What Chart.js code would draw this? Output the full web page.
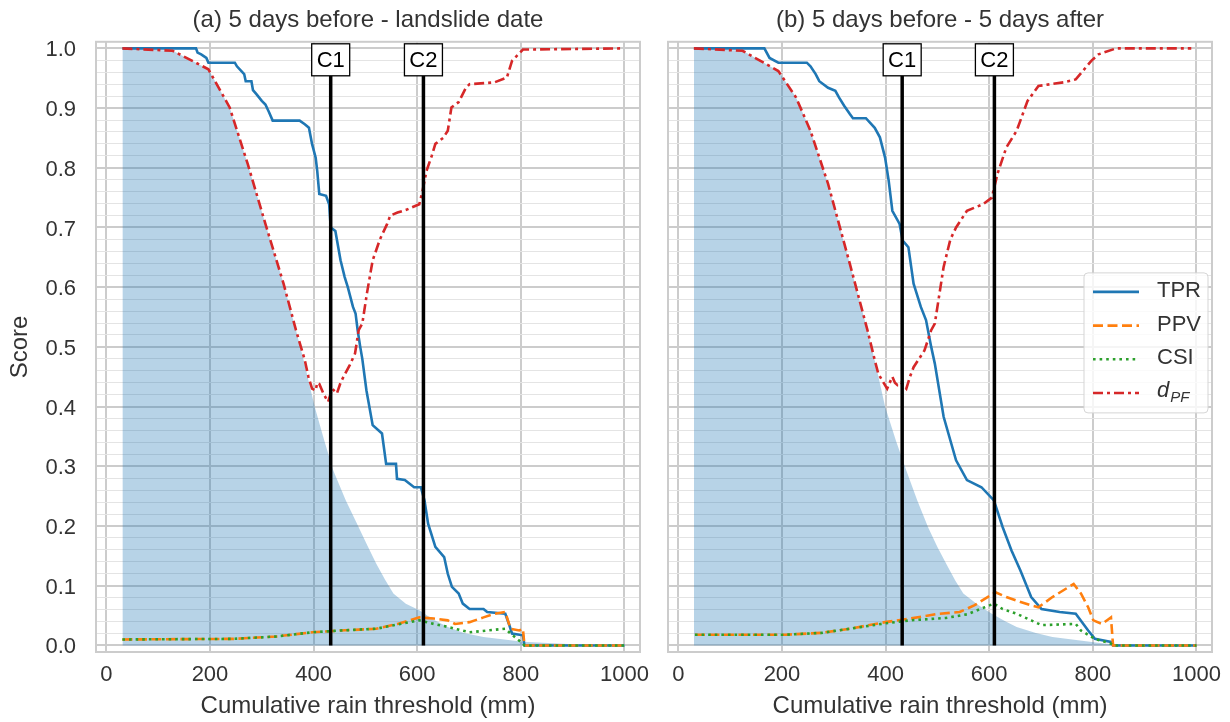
<!DOCTYPE html>
<html>
<head>
<meta charset="utf-8">
<script src="https://cdn.jsdelivr.net/npm/chart.js@4.4.0/dist/chart.umd.min.js"></script>
<style>
  html, body { margin: 0; padding: 0; background: #fff; }
  #wrap { position: relative; width: 1230px; height: 722px; }
  canvas { position: absolute; top: 0; }
  #chart-a { left: 0; }
  #chart-b { left: 650px; }
</style>
</head>
<body>
<div id="wrap">
  <canvas id="chart-a" width="650" height="722"></canvas>
  <canvas id="chart-b" width="580" height="722"></canvas>
</div>
<script>
// --- data: [threshold mm, score] ---
const markerLabels = ["C1", "C2"];
const thresholdsA = [433, 612];
const thresholdsB = [432, 610];

// (a) 5 days before - landslide date
const tprA = [[31,1],[173,1],[176,0.993],[183,0.99],[193,0.984],[197,0.976],[248,0.976],[252,0.97],[266,0.957],[269,0.945],[280,0.945],[283,0.93],[290,0.923],[300,0.912],[307,0.906],[314,0.893],[321,0.879],[373,0.879],[383,0.873],[391,0.867],[397,0.84],[404,0.817],[407,0.795],[411,0.756],[424,0.753],[430,0.739],[433,0.70],[442,0.694],[452,0.645],[460,0.617],[466,0.60],[476,0.567],[481,0.556],[485,0.528],[490,0.50],[494,0.48],[502,0.427],[514,0.369],[532,0.355],[540,0.304],[559,0.304],[561,0.279],[576,0.277],[594,0.265],[607,0.265],[614,0.243],[621,0.204],[635,0.165],[652,0.148],[659,0.12],[667,0.098],[680,0.087],[688,0.07],[701,0.061],[728,0.061],[735,0.056],[770,0.053],[777,0.036],[783,0.02],[804,0.017],[807,0],[1000,0]];
const ppvA = [[31,0.01],[245,0.011],[328,0.015],[397,0.022],[452,0.025],[521,0.028],[562,0.036],[604,0.047],[632,0.045],[659,0.042],[673,0.036],[701,0.039],[728,0.047],[749,0.053],[770,0.056],[780,0.028],[797,0.025],[804,0.028],[807,0],[1000,0]];
const csiA = [[31,0.01],[245,0.011],[328,0.015],[397,0.022],[452,0.025],[521,0.028],[562,0.035],[604,0.042],[632,0.036],[659,0.031],[701,0.022],[770,0.028],[780,0.02],[797,0.008],[804,0.003],[807,0],[1000,0]];
const dpfA = [[31,1],[128,0.996],[197,0.965],[238,0.901],[273,0.806],[307,0.706],[342,0.606],[366,0.528],[383,0.478],[390,0.45],[397,0.43],[404,0.427],[407,0.44],[411,0.438],[420,0.42],[428,0.408],[436,0.43],[445,0.422],[452,0.44],[459,0.452],[470,0.47],[480,0.489],[487,0.528],[494,0.539],[503,0.59],[514,0.645],[528,0.68],[542,0.706],[548,0.72],[562,0.725],[580,0.73],[604,0.739],[610,0.76],[618,0.795],[628,0.82],[635,0.84],[650,0.85],[659,0.862],[666,0.901],[680,0.91],[694,0.934],[701,0.94],[749,0.943],[773,0.951],[783,0.979],[804,0.998],[997,1]];
const eventsA = [[31,1],[128,0.996],[197,0.965],[238,0.901],[273,0.806],[307,0.706],[342,0.606],[366,0.528],[383,0.47],[402,0.40],[420,0.345],[438,0.293],[462,0.243],[487,0.198],[504,0.167],[521,0.137],[538,0.11],[554,0.087],[578,0.07],[604,0.059],[630,0.044],[659,0.031],[690,0.021],[728,0.014],[804,0.006],[900,0.002],[1000,0]];

// (b) 5 days before - 5 days after
const tprB = [[30,1],[166,1],[176,0.984],[193,0.976],[248,0.976],[255,0.97],[265,0.957],[272,0.945],[289,0.934],[303,0.929],[310,0.918],[320,0.904],[331,0.89],[337,0.883],[362,0.883],[379,0.867],[389,0.851],[399,0.817],[406,0.778],[413,0.728],[427,0.706],[433,0.678],[444,0.667],[454,0.606],[468,0.567],[478,0.545],[488,0.50],[495,0.472],[512,0.383],[536,0.31],[557,0.277],[585,0.265],[609,0.243],[626,0.198],[643,0.159],[660,0.126],[681,0.081],[701,0.061],[736,0.056],[767,0.053],[791,0.025],[804,0.011],[835,0.006],[839,0],[1000,0]];
const ppvB = [[32,0.018],[207,0.018],[276,0.021],[331,0.028],[399,0.039],[447,0.045],[502,0.053],[543,0.056],[571,0.067],[612,0.089],[633,0.081],[653,0.075],[681,0.067],[695,0.064],[722,0.081],[763,0.103],[777,0.087],[791,0.064],[801,0.042],[818,0.036],[835,0.047],[839,0],[1000,0]];
const csiB = [[32,0.018],[207,0.018],[276,0.021],[331,0.028],[399,0.037],[447,0.042],[516,0.046],[557,0.052],[609,0.07],[626,0.061],[653,0.053],[681,0.042],[701,0.034],[767,0.036],[777,0.025],[804,0.011],[835,0.003],[839,0],[1000,0]];
const dpfB = [[30,1],[124,0.996],[193,0.962],[227,0.918],[255,0.862],[289,0.773],[331,0.639],[365,0.528],[379,0.478],[386,0.455],[396,0.44],[403,0.43],[413,0.45],[418,0.44],[423,0.436],[430,0.44],[440,0.43],[447,0.45],[454,0.466],[475,0.494],[488,0.528],[495,0.539],[512,0.634],[525,0.68],[536,0.70],[557,0.728],[588,0.739],[605,0.75],[616,0.79],[633,0.834],[653,0.862],[674,0.912],[695,0.937],[743,0.943],[767,0.948],[797,0.979],[811,0.99],[845,1],[990,1]];
const eventsB = [[30,1],[124,0.996],[193,0.962],[227,0.918],[255,0.862],[289,0.773],[331,0.639],[365,0.528],[381,0.47],[399,0.40],[420,0.343],[440,0.293],[461,0.243],[482,0.198],[500,0.165],[518,0.135],[535,0.108],[550,0.087],[578,0.068],[605,0.053],[630,0.041],[653,0.031],[690,0.021],[722,0.014],[825,0.003],[1000,0]];

const FONT = "'Liberation Sans', Arial, sans-serif";
const TEXT = "#333333";
const GRID = "#cccccc";
const GRID_MINOR = "#e4e4e4";

const toPoints = (pairs) => pairs.map(([x, y]) => ({ x, y }));
const isMajor = (v) => Math.abs(v * 10 - Math.round(v * 10)) < 1e-6;

// frame, threshold lines with boxed labels, inset legend
const extrasPlugin = {
  id: "panelExtras",
  beforeDatasetsDraw(chart) {
    const { ctx, chartArea: a } = chart;
    ctx.save();
    ctx.strokeStyle = GRID;
    ctx.lineWidth = 2;
    ctx.strokeRect(a.left, a.top, a.right - a.left, a.bottom - a.top);
    ctx.restore();
  },
  afterDatasetsDraw(chart, args, opts) {
    const { ctx, chartArea: a, scales } = chart;
    const x = scales.x, y = scales.y;
    ctx.save();
    // threshold markers
    const boxW = 38, boxH = 32;
    const boxTop = a.top + 2;
    opts.thresholds.forEach((t, i) => {
      const px = x.getPixelForValue(t);
      ctx.strokeStyle = "#000";
      ctx.lineWidth = 3.5;
      ctx.setLineDash([]);
      ctx.beginPath();
      ctx.moveTo(px, y.getPixelForValue(0));
      ctx.lineTo(px, boxTop + boxH);
      ctx.stroke();
      ctx.fillStyle = "#fff";
      ctx.fillRect(px - boxW / 2, boxTop, boxW, boxH);
      ctx.lineWidth = 1.3;
      ctx.strokeRect(px - boxW / 2, boxTop, boxW, boxH);
      ctx.fillStyle = "#000";
      ctx.font = "22px " + FONT;
      ctx.textAlign = "center";
      ctx.textBaseline = "middle";
      ctx.fillText(markerLabels[i], px, boxTop + boxH / 2 + 1);
    });

    if (opts.legend) {
      const items = chart.data.datasets.filter((d) => d.inLegend);
      const w = 124, h = 140;
      const x0 = a.right - 4 - w;
      const y0 = (a.top + a.bottom) / 2 - h / 2 - 4;
      ctx.fillStyle = "rgba(255,255,255,0.8)";
      ctx.strokeStyle = "#d5d5d5";
      ctx.lineWidth = 1;
      ctx.beginPath();
      ctx.roundRect(x0, y0, w, h, 4);
      ctx.fill();
      ctx.stroke();
      items.forEach((d, i) => {
        const ly = y0 + 19 + i * 33.7;
        ctx.strokeStyle = d.borderColor;
        ctx.lineWidth = d.borderWidth;
        ctx.setLineDash(d.borderDash || []);
        ctx.beginPath();
        ctx.moveTo(x0 + 9, ly);
        ctx.lineTo(x0 + 55, ly);
        ctx.stroke();
        ctx.setLineDash([]);
        ctx.fillStyle = TEXT;
        ctx.textAlign = "left";
        ctx.textBaseline = "middle";
        if (d.label === "dPF") {
          ctx.font = "italic 22px " + FONT;
          ctx.fillText("d", x0 + 73, ly - 2);
          const dw = ctx.measureText("d").width;
          ctx.font = "italic 15px " + FONT;
          ctx.fillText("PF", x0 + 73 + dw + 1, ly + 5);
        } else {
          ctx.font = "22px " + FONT;
          ctx.fillText(d.label, x0 + 73, ly - 1);
        }
      });
    }
    ctx.restore();
  },
};

function makePanel(canvasId, title, series, opts) {
  const line = (label, pairs, color, dash, order) => ({
    label,
    data: toPoints(pairs),
    borderColor: color,
    borderWidth: 2.6,
    borderDash: dash,
    pointRadius: 0,
    fill: false,
    tension: 0,
    order,
    inLegend: true,
  });

  return new Chart(document.getElementById(canvasId), {
    type: "line",
    data: {
      datasets: [
        line("TPR", series.tpr, "#1f77b4", [], 4),
        line("PPV", series.ppv, "#ff7f0e", [10, 4.5], 3),
        line("CSI", series.csi, "#2ca02c", [2.6, 4], 2),
        line("dPF", series.dpf, "#d62728", [10, 4, 3, 4], 1),
        {
          label: "events",
          data: toPoints(series.events),
          borderWidth: 0,
          pointRadius: 0,
          backgroundColor: "rgba(31,119,180,0.32)",
          fill: "origin",
          tension: 0,
          order: 6,
        },
      ],
    },
    options: {
      responsive: false,
      animation: false,
      layout: { padding: { left: 0, right: opts.rightPad, top: 0, bottom: 0 } },
      plugins: {
        legend: { display: false },
        tooltip: { enabled: false },
        title: {
          display: true,
          text: title,
          fullSize: false,
          color: TEXT,
          font: { family: FONT, size: 24, weight: "normal" },
          padding: { top: 6, bottom: 7 },
        },
        panelExtras: { thresholds: series.thresholds, legend: opts.legend },
      },
      scales: {
        x: {
          type: "linear",
          min: -20,
          max: 1030,
          border: { display: false },
          grid: { color: GRID, lineWidth: 2, drawTicks: false },
          ticks: {
            stepSize: 200,
            includeBounds: false,
            color: TEXT,
            padding: 10,
            font: { family: FONT, size: 22 },
            callback: (v) => String(v),
          },
          title: {
            display: true,
            text: "Cumulative rain threshold (mm)",
            color: TEXT,
            font: { family: FONT, size: 24 },
            padding: { top: 0, bottom: 1 },
          },
          afterFit: (s) => {
            s.height = 70;
            s.paddingLeft = 0;
            s.paddingRight = 0;
          },
        },
        y: {
          min: -0.011,
          max: 1.011,
          border: { display: false },
          grid: {
            drawTicks: false,
            color: (c) => (isMajor(c.tick.value) ? GRID : GRID_MINOR),
            lineWidth: (c) => (isMajor(c.tick.value) ? 2 : 1),
          },
          ticks: {
            display: opts.yLabels,
            stepSize: 0.02,
            includeBounds: false,
            autoSkip: false,
            color: TEXT,
            padding: 20,
            labelOffset: 2,
            font: { family: FONT, size: 22 },
            // empty string keeps the minor grid line, null would hide it
            callback: (v) => (isMajor(v) ? v.toFixed(1) : ""),
          },
          title: {
            display: opts.yLabels,
            text: "Score",
            color: TEXT,
            font: { family: FONT, size: 24 },
            padding: { top: 6, bottom: 0 },
          },
          afterFit: (s) => {
            s.width = opts.yWidth;
            s.paddingTop = 0;
            s.paddingBottom = 0;
          },
        },
      },
    },
    plugins: [extrasPlugin],
  });
}

makePanel(
  "chart-a",
  "(a) 5 days before - landslide date",
  { tpr: tprA, ppv: ppvA, csi: csiA, dpf: dpfA, events: eventsA, thresholds: thresholdsA },
  { rightPad: 10, yWidth: 96, yLabels: true, legend: false }
);
makePanel(
  "chart-b",
  "(b) 5 days before - 5 days after",
  { tpr: tprB, ppv: ppvB, csi: csiB, dpf: dpfB, events: eventsB, thresholds: thresholdsB },
  { rightPad: 18, yWidth: 18, yLabels: false, legend: true }
);
</script>
</body>
</html>
